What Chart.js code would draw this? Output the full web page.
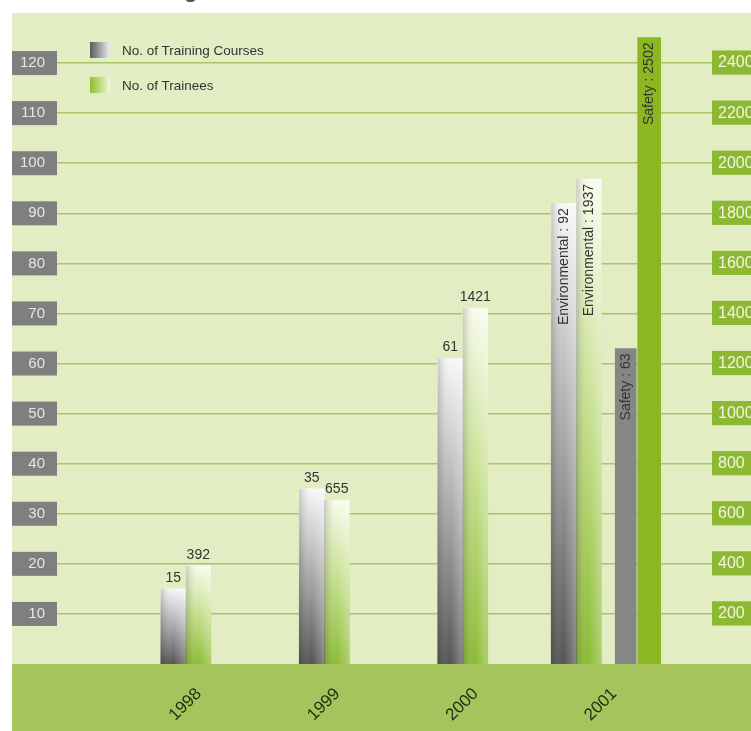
<!DOCTYPE html>
<html>
<head>
<meta charset="utf-8">
<title>Training</title>
<script src="https://cdn.jsdelivr.net/npm/chart.js@4.4.1/dist/chart.umd.min.js"></script>
<style>
  html, body { margin: 0; padding: 0; background: #fff; }
  body { width: 751px; height: 731px; position: relative; overflow: hidden; font-family: "Liberation Sans", Arial, sans-serif; }
  .title { position: absolute; left: 112px; top: -21px; font: bold 22px/22px "Liberation Sans", Arial, sans-serif; color: #555; white-space: nowrap; }
  .panel { position: absolute; left: 12px; top: 13px; width: 739px; height: 718px; overflow: hidden;
    background: linear-gradient(to bottom, #e2edc4 0, #e2edc4 651px, #a6c45c 651px, #a6c45c 100%); }
  #chart { position: absolute; left: 0; top: 0; }
  .legend { position: absolute; left: 78px; top: 29px; }
  .legend .item { position: absolute; left: 0; display: flex; align-items: center; height: 16px; white-space: nowrap; }
  .legend .swatch { width: 20px; height: 16px; }
  .legend .text { margin-left: 12px; font-size: 13.5px; color: #333; }
</style>
</head>
<body>
<div class="title">Training</div>
<div class="panel">
  <canvas id="chart" width="739" height="718"></canvas>
  <div class="legend" id="legend"></div>
</div>
<script>
/* ================================= 
  data
==================================== */
const years = [1998, 1999, 2000, 2001];
const courses = [15, 35, 61, 92];
const trainees = [392, 655, 1421, 1937];
const safetyCourses = [null, null, null, 63];
const safetyTrainees = [null, null, null, 2502];
const courseTicks = [10, 20, 30, 40, 50, 60, 70, 80, 90, 100, 110, 120];
const traineeTicks = [200, 400, 600, 800, 1000, 1200, 1400, 1600, 1800, 2000, 2200, 2400];
// the year split into environmental / safety bars
const breakdownYear = 2001;

const FONT = '"Liberation Sans", Arial, sans-serif';
Chart.defaults.font.family = FONT;

const grayStops = [[0, '#545454'], [0.45, '#a0a0a2'], [1, '#f7f7f9']];
const greenStops = [[0, '#8cbb33'], [0.5, '#c3de8a'], [1, '#f7fbec']];

// bottom-to-top fade sized to each bar
function fade(stops) {
    return (c) => {
        const { chart, parsed } = c;
        if (!parsed || parsed.y == null) return stops[0][1];
        const axis = chart.scales[c.dataset.yAxisID];
        if (!axis) return stops[0][1];
        const y0 = axis.getPixelForValue(0);
        const y1 = axis.getPixelForValue(parsed.y);
        if (!isFinite(y0) || !isFinite(y1) || y0 === y1) return stops[0][1];
        const g = chart.ctx.createLinearGradient(0, y0, 0, y1);
        stops.forEach(([at, col]) => g.addColorStop(at, col));
        return g;
    };
}

const points = (vals) => years.map((yr, i) => ({ x: yr, y: vals[i] }));

// value axes keep the full canvas height, no room reserved for end labels
const noPadding = (s) => { s.paddingTop = 0; s.paddingBottom = 0; };

/* ================================= 
  shading + value labels
==================================== */
const barLabels = {
    id: 'barLabels',
    afterDatasetsDraw(chart) {
        const ctx = chart.ctx;
        chart.data.datasets.forEach((ds, di) => {
            const meta = chart.getDatasetMeta(di);
            meta.data.forEach((bar, i) => {
                const value = ds.data[i].y;
                if (value == null) return;
                const { x, y, width, base } = bar.getProps(['x', 'y', 'width', 'base'], true);
                ctx.save();
                if (ds.shade) {
                    const g = ctx.createLinearGradient(x - width / 2, 0, x + width / 2, 0);
                    g.addColorStop(0, 'rgba(40,40,40,0.22)');
                    g.addColorStop(0.5, 'rgba(255,255,255,0)');
                    g.addColorStop(1, 'rgba(255,255,255,0.3)');
                    ctx.fillStyle = g;
                    ctx.fillRect(x - width / 2, y, width, base - y);
                }
                ctx.fillStyle = '#333';
                if (years[i] === breakdownYear) {
                    ctx.translate(x, y + 5);
                    ctx.rotate(-Math.PI / 2);
                    ctx.textAlign = 'right';
                    ctx.textBaseline = 'middle';
                    ctx.font = '14px ' + FONT;
                    ctx.fillText(ds.tag + ' : ' + value, 0, 0);
                } else {
                    ctx.textAlign = 'center';
                    ctx.textBaseline = 'bottom';
                    ctx.font = '14px ' + FONT;
                    ctx.fillText(String(value), x, y - 4);
                }
                ctx.restore();
            });
        });
    }
};

/* ================================= 
  chart
==================================== */
const chart = new Chart(document.getElementById('chart'), {
    type: 'bar',
    data: {
        datasets: [{
            label: 'No. of Training Courses',
            tag: 'Environmental',
            data: points(courses),
            yAxisID: 'y',
            backgroundColor: fade(grayStops),
            barThickness: 25,
            shade: true,
            swatch: 'linear-gradient(to right, #5a5a5a, #c8c8ce 75%, #eeeef2)'
        }, {
            label: 'No. of Trainees',
            tag: 'Environmental',
            data: points(trainees),
            yAxisID: 'y2',
            backgroundColor: fade(greenStops),
            barThickness: 25,
            shade: true,
            swatch: 'linear-gradient(to right, #8fbd2c, #d6e9ad 75%, #f4f9e8)'
        }, {
            label: 'Safety courses',
            tag: 'Safety',
            data: points(safetyCourses),
            yAxisID: 'y',
            backgroundColor: '#868686',
            barThickness: 49,
            maxBarThickness: 21
        }, {
            label: 'Safety trainees',
            tag: 'Safety',
            data: points(safetyTrainees),
            yAxisID: 'y2',
            backgroundColor: '#8bb822',
            barThickness: 32,
            maxBarThickness: 23
        }]
    },
    options: {
        responsive: false,
        devicePixelRatio: 1,
        animation: false,
        skipNull: true,
        layout: { padding: 0 },
        plugins: {
            legend: { display: false },
            tooltip: { enabled: false }
        },
        scales: {
            x: {
                type: 'linear',
                offset: false,
                min: 1997.07,
                max: 2001.8,
                afterBuildTicks: (s) => { s.ticks = years.map(v => ({ value: v })); },
                afterFit: (s) => { s.height = 67; s.paddingLeft = 0; s.paddingRight = 0; },
                grid: { display: false },
                border: { display: false },
                ticks: {
                    autoSkip: false,
                    minRotation: 45,
                    maxRotation: 45,
                    padding: 12,
                    labelOffset: 13,
                    color: '#1f2d12',
                    font: { size: 17 },
                    callback: (v) => String(v)
                }
            },
            y: {
                position: 'left',
                min: 0,
                max: 130,
                afterBuildTicks: (s) => { s.ticks = courseTicks.map(v => ({ value: v })); },
                afterFit: (s) => { s.width = 45; noPadding(s); },
                border: { display: false },
                grid: { color: '#aac568', lineWidth: 1.5, drawTicks: false },
                ticks: {
                    color: '#e6e6e6',
                    font: { size: 15 },
                    padding: 12,
                    showLabelBackdrop: true,
                    backdropColor: '#7f7f7f',
                    backdropPadding: { top: 3, bottom: 3, left: 40, right: 12 },
                    callback: (v) => String(v)
                }
            },
            y2: {
                position: 'right',
                min: 0,
                max: 2600,
                afterBuildTicks: (s) => { s.ticks = traineeTicks.map(v => ({ value: v })); },
                afterFit: (s) => { s.width = 39; noPadding(s); },
                border: { display: false },
                grid: { display: false, drawTicks: false },
                ticks: {
                    color: '#f0f6de',
                    font: { size: 16 },
                    padding: 6,
                    showLabelBackdrop: true,
                    backdropColor: '#8cb833',
                    backdropPadding: { top: 3, bottom: 2, left: 6, right: 40 },
                    callback: (v) => String(v)
                }
            }
        }
    },
    plugins: [barLabels]
});

/* ================================= 
  legend
==================================== */
const legend = document.getElementById('legend');
chart.data.datasets.filter(ds => ds.swatch).forEach((ds, i) => {
    const item = document.createElement('div');
    item.className = 'item';
    item.style.top = (i * 35) + 'px';
    item.innerHTML = `<span class="swatch" style="background:${ds.swatch}"></span><span class="text">${ds.label}</span>`;
    legend.appendChild(item);
});
</script>
</body>
</html>
